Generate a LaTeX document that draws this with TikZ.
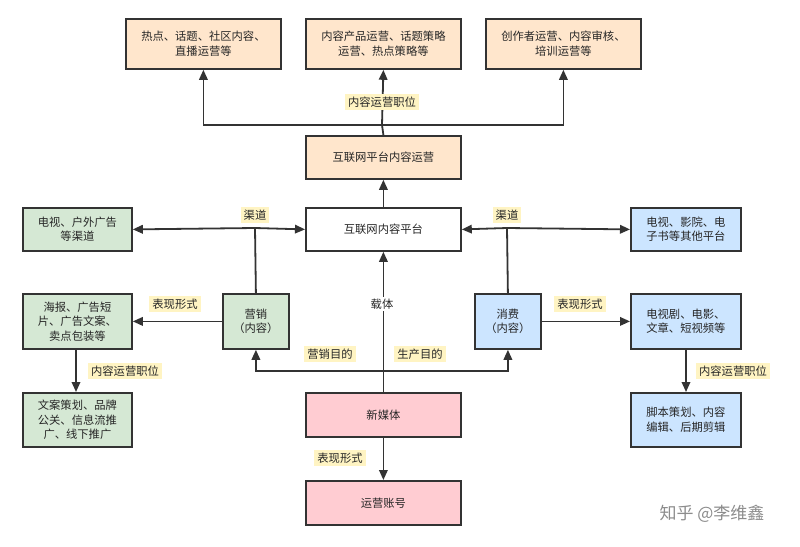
\documentclass[tikz,border=0pt]{standalone}
\usepackage{fontspec}
\setmainfont{Noto Sans CJK SC}
\usetikzlibrary{arrows.meta}
\definecolor{cor}{HTML}{FFE6CC}\definecolor{cgr}{HTML}{D5E8D4}\definecolor{cbl}{HTML}{CCE5FF}
\definecolor{cpk}{HTML}{FFCCD2}\definecolor{cyl}{HTML}{FFF4C3}\definecolor{cln}{HTML}{333333}
\begin{document}
\begin{tikzpicture}[x=1pt,y=-1pt,font=\fontsize{11.3}{14.5}\selectfont,
 box/.style={draw=cln,line width=1.8pt,minimum width=#1,align=center,inner sep=2pt,anchor=north west,text=black!85},
 lab/.style={fill=cyl,inner sep=3pt,text=black!85},
 ar/.style={draw=cln,line width=1.8pt,-{Triangle[length=10pt,width=8.5pt]}},
 ln/.style={draw=cln,line width=1.8pt}]
\useasboundingbox (0,0) rectangle (800,546);
\fill[white] (0,0) rectangle (800,546);
\node[box=155pt,minimum height=50pt,fill=cor] (a1) at (125,18) {热点、话题、社区内容、\\直播运营等};
\node[box=155pt,minimum height=50pt,fill=cor] (a2) at (305,18) {内容产品运营、话题策略\\运营、热点策略等};
\node[box=155pt,minimum height=50pt,fill=cor] (a3) at (485,18) {创作者运营、内容审核、\\培训运营等};
\node[box=155pt,minimum height=43pt,fill=cor] (op) at (305,135) {互联网平台内容运营};
\node[box=155pt,minimum height=43pt,fill=white] (pf) at (305,207) {互联网内容平台};
\node[box=109pt,minimum height=43pt,fill=cgr] (l1) at (22,207) {电视、户外广告\\等渠道};
\node[box=110pt,minimum height=43pt,fill=cbl] (r1) at (630,207) {电视、影院、电\\子书等其他平台};
\node[box=66pt,minimum height=55pt,fill=cgr] (mk) at (222,293) {营销\\（内容）};
\node[box=66pt,minimum height=55pt,fill=cbl] (cs) at (474,293) {消费\\（内容）};
\node[box=109pt,minimum height=55pt,fill=cgr] (l2) at (22,293) {海报、广告短\\片、广告文案、\\卖点包装等};
\node[box=110pt,minimum height=55pt,fill=cbl] (r2) at (630,293) {电视剧、电影、\\文章、短视频等};
\node[box=109pt,minimum height=54pt,fill=cgr] (l3) at (22,392) {文案策划、品牌\\公关、信息流推\\广、线下推广};
\node[box=110pt,minimum height=54pt,fill=cbl] (r3) at (630,392) {脚本策划、内容\\编辑、后期剪辑};
\node[box=155pt,minimum height=44pt,fill=cpk] (nm) at (305,392) {新媒体};
\node[box=155pt,minimum height=44pt,fill=cpk] (ac) at (305,480) {运营账号};
% top tree
\coordinate (tj) at (382,125);
\draw[ln] (op.north) -- (tj);
\draw[ar] (tj) -| (a1.south);
\draw[ar] (tj) -| (a3.south);
\draw[ar] (tj) -- (a2.south);
\node[lab] (t1) at (382,102) {内容运营职位};
\draw[ar] (pf.north) -- (op.south);
% channels
\coordinate (cl) at (255,228); \coordinate (cr) at (507,228);
\draw[ln] (mk.north) -- (cl);
\draw[ar] (cl) -- (l1.east); \draw[ar] (cl) -- (pf.west);
\draw[ln] (cs.north) -- (cr);
\draw[ar] (cr) -- (pf.east); \draw[ar] (cr) -- (r1.west);
\node[lab] (t2) at (255,215) {渠道}; \node[lab] (t3) at (507,215) {渠道};
% forms
\draw[ar] (mk.west) -- (l2.east); \node[lab] (t4) at (175,304) {表现形式};
\draw[ar] (cs.east) -- (r2.west); \node[lab] (t5) at (580,304) {表现形式};
\draw[ar] (76,348) -- (76,392); \node[lab] (t6) at (125,371) {内容运营职位};
\draw[ar] (686,348) -- (686,392); \node[lab] (t7) at (733,371) {内容运营职位};
% new media
\draw[ar] (nm.north) -- (pf.south);
\node[fill=white,inner sep=2pt,text=black!85] (t8) at (382,304) {载体};
\coordinate (m1) at (382,371);
\draw[ar] (m1) -| (mk.south); \draw[ar] (m1) -| (cs.south);
\node[lab] (t9) at (330,354) {营销目的}; \node[lab] (t10) at (420,354) {生产目的};
\draw[ar] (nm.south) -- (ac.north); \node[lab] (t11) at (340,458) {表现形式};
\node[text=black!45,font=\fontsize{17}{20}\selectfont] (wm) at (712,514) {知乎 @李维鑫};
\end{tikzpicture}
\end{document}
